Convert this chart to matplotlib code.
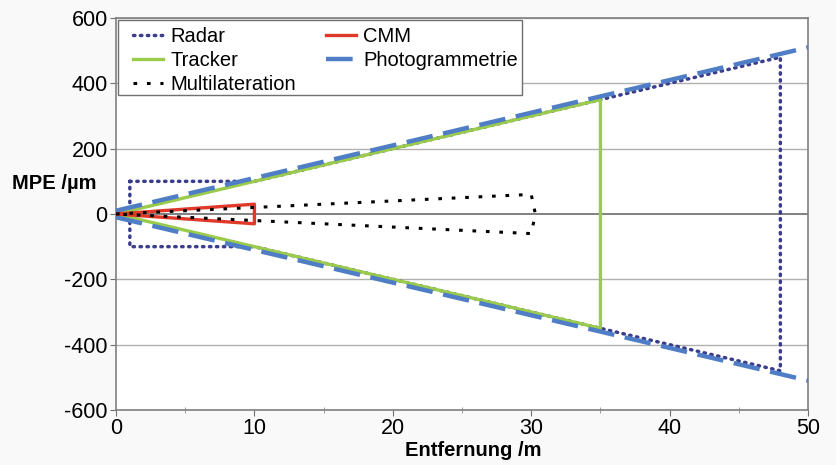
import numpy as np
import matplotlib
matplotlib.use('Agg')
import matplotlib.pyplot as plt
from matplotlib.patches import Rectangle

# MPE envelopes over distance (x in m, y in um)
radar_x = [1, 10, 48, 48, 10, 1, 1]
radar_y = [100, 100, 480, -480, -100, -100, 100]

cmm_x = [0, 10, 10, 0]
cmm_y = [0, 30, -30, 0]

tracker_x = [0, 35, 35, 0]
tracker_y = [0, 350, -350, 0]

photo_x = [0, 50, np.nan, 0, 50]
photo_y = [10, 510, np.nan, -10, -510]

multi_x = [0, 30, 30.3, 30, 0]
multi_y = [0, 60, 0, -60, 0]

x_ticks = [0, 10, 20, 30, 40, 50]
x_minor = [5, 15, 25, 35, 45]
y_ticks = [-600, -400, -200, 0, 200, 400, 600]


def main():
    plt.rcParams['font.family'] = ['Liberation Sans', 'DejaVu Sans']
    plt.rcParams['axes.unicode_minus'] = False
    fig = plt.figure(figsize=(8.37, 4.65), dpi=100, facecolor='#f9f9f9')
    ax = fig.add_axes([0.1386, 0.1183, 0.8268, 0.843])
    ax.set_facecolor('white')

    for y in y_ticks:
        ax.axhline(y, color='#808080' if y == 0 else '#b0b0b0',
                   lw=1.4 if y == 0 else 1.0, zorder=1)

    l_radar, = ax.plot(radar_x, radar_y, color='#3a3d8c', lw=2.5,
                       linestyle=(0, (0.4, 1.6)), dash_capstyle='round',
                       label='Radar', zorder=2)
    l_tracker, = ax.plot(tracker_x, tracker_y, color='#9acb4a', lw=2.4,
                         label='Tracker', zorder=3)
    l_photo, = ax.plot(photo_x, photo_y, color='#4f7ec6', lw=3.2,
                       linestyle=(0, (6, 2.4)), label='Photogrammetrie', zorder=4)
    l_cmm, = ax.plot(cmm_x, cmm_y, color='#e0392a', lw=2.4,
                     label='CMM', zorder=5)
    l_multi, = ax.plot(multi_x, multi_y, color='black', lw=2.2,
                       linestyle=(0, (1.2, 3.2)), label='Multilateration', zorder=6)

    ax.set_xlim(0, 50)
    ax.set_ylim(-600, 600)
    ax.set_xticks(x_ticks)
    ax.set_xticks(x_minor, minor=True)
    ax.set_yticks(y_ticks)
    ax.tick_params(labelsize=15.5, direction='out', length=4, pad=2,
                   color='#707070')
    ax.tick_params(axis='x', which='minor', direction='inout', length=5,
                   color='#909090')
    for s in ax.spines.values():
        s.set_color('#808080')
        s.set_linewidth(1.2)

    ax.set_xlabel('Entfernung /m', fontsize=14.5, fontweight='bold', labelpad=1)
    ax.xaxis.label.set_x(0.516)
    fig.text(0.014, 0.606, 'MPE /µm', fontsize=14.5, fontweight='bold',
             ha='left', va='center')

    # legend box drawn by hand, entries placed inside it
    box = Rectangle((0.003, 0.804), 0.584, 0.191, transform=ax.transAxes,
                    facecolor='white', edgecolor='#707070', lw=1.0, zorder=9)
    ax.add_patch(box)
    leg = ax.legend(handles=[l_radar, l_tracker, l_multi, l_cmm, l_photo],
                    ncol=2, loc='upper left', bbox_to_anchor=(0.0246, 0.978),
                    fontsize=14.5, frameon=False, handlelength=1.5,
                    handletextpad=0.35, columnspacing=1.5, labelspacing=0.26,
                    borderpad=0, borderaxespad=0)
    leg.set_zorder(10)

    fig.savefig('out.png', dpi=100, facecolor=fig.get_facecolor())
    plt.close()


if __name__ == '__main__':
    main()
